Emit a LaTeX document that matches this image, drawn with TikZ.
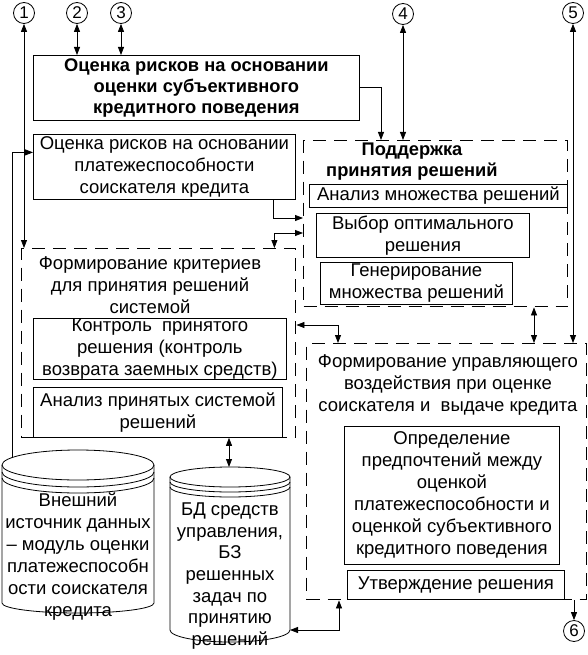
\documentclass[tikz,border=0pt]{standalone}
\usepackage{fontspec}
\setmainfont{Liberation Sans}
\usetikzlibrary{arrows.meta}
\begin{document}
\begin{tikzpicture}[x=1pt,y=-1pt,
  box/.style={draw, line width=0.8pt, inner sep=0pt, anchor=north west, align=center, font=\fontsize{18.5}{22}\selectfont},
  dbox/.style={draw, line width=1.4pt, dash pattern=on 13pt off 8pt, inner sep=0pt, anchor=north west},
  txt/.style={align=center, font=\fontsize{18.5}{22}\selectfont, inner sep=0pt},
  btxt/.style={align=center, font=\fontsize{18.3}{21}\selectfont\bfseries, inner sep=0pt},
  num/.style={draw, circle, minimum size=21pt, inner sep=0pt, line width=0.8pt, font=\fontsize{17}{17}\selectfont},
  arr/.style={line width=0.8pt, -{Triangle[length=8pt,width=6pt]}},
  darr/.style={line width=0.8pt, {Triangle[length=8pt,width=6pt]}-{Triangle[length=8pt,width=6pt]}},
  cyl/.style={line width=0.8pt},
]
\useasboundingbox (0,0) rectangle (588,655);

% numbered circles
\node[num] (c1) at (24,13) {1};
\node[num] (c2) at (77,13) {2};
\node[num] (c3) at (121,13) {3};
\node[num] (c4) at (403,14) {4};
\node[num] (c5) at (573,13) {5};
\node[num] (c6) at (574,631) {6};

% dashed group boxes
\node[dbox, minimum width=264pt, minimum height=166pt] (podd) at (303,140) {};
\node[dbox, minimum width=274pt, minimum height=189pt] (krit) at (21,248) {};
\node[dbox, minimum width=280pt, minimum height=256pt] (upr) at (306,343) {};

% titles of dashed boxes
\node[btxt] (poddt) at (412,162) {Поддержка\\принятия решений};
\node[txt] (kritt) at (150,285) {Формирование критериев\\для принятия решений\\системой};
\node[txt] (uprt) at (448,385) {Формирование управляющего\\воздействия при оценке\\соискателя и \ выдаче кредита};

% solid boxes
\node[box, minimum width=326pt, minimum height=65pt, font=\fontsize{18.3}{21}\selectfont\bfseries] (top) at (33,55) {Оценка рисков на основании\\оценки субъективного\\кредитного поведения};
\node[box, minimum width=262pt, minimum height=65pt] (plat) at (33,134) {Оценка рисков на основании\\платежеспособности\\соискателя кредита};
\node[box, minimum width=258pt, minimum height=23pt] (anm) at (309,184) {Анализ множества решений};
\node[box, minimum width=213pt, minimum height=44pt] (vyb) at (316,213) {Выбор оптимального\\решения};
\node[box, minimum width=192pt, minimum height=42pt] (gen) at (320,262) {Генерирование\\множества решений};
\node[box, minimum width=253pt, minimum height=61pt] (kon) at (33,318) {Контроль \ принятого\\решения (контроль\\возврата заемных средств)};
\node[box, minimum width=249pt, minimum height=50pt] (anp) at (33,387) {Анализ принятых системой\\решений};
\node[box, minimum width=215pt, minimum height=138pt] (opr) at (344,426) {Определение\\предпочтений между\\оценкой\\платежеспособности и\\оценкой субъективного\\кредитного поведения};
\node[box, minimum width=217pt, minimum height=29pt] (utv) at (347,570) {Утверждение решения};

% cylinders
\draw[cyl] (78,465) ellipse [x radius=76pt, y radius=15pt];
\draw[cyl] (2,472) arc[start angle=180,end angle=360,x radius=76pt,y radius=15pt];
\draw[cyl] (2,478) arc[start angle=180,end angle=360,x radius=76pt,y radius=15pt];
\draw[cyl] (2,465) -- (2,603) arc[start angle=180,end angle=360,x radius=76pt,y radius=10pt] -- (154,465);
\node[txt] (db1) at (78,557) {Внешний\\источник данных\\– модуль оценки\\платежеспособн\\ости соискателя\\кредита};
\coordinate (cyl1top) at (12,457);

\draw[cyl] (230,477) ellipse [x radius=60pt, y radius=10pt];
\draw[cyl] (170,482) arc[start angle=180,end angle=360,x radius=60pt,y radius=10pt];
\draw[cyl] (170,487) arc[start angle=180,end angle=360,x radius=60pt,y radius=10pt];
\draw[cyl] (170,477) -- (170,630) arc[start angle=180,end angle=360,x radius=60pt,y radius=12pt] -- (290,477);
\node[txt, font=\fontsize{18.5}{21.7}\selectfont] (db2) at (230,576) {БД средств\\управления,\\БЗ\\решенных\\задач по\\принятию\\решений};
\coordinate (cyl2top) at (229,467);
\coordinate (cyl2east) at (290,630);

% connectors
\draw[darr] (c1.south) -- (c1.south |- krit.north);
\draw[darr] (c2.south) -- (c2.south |- top.north);
\draw[darr] (c3.south) -- (c3.south |- top.north);
\draw[arr] (top.east) -| ([xshift=78pt]podd.north west);
\draw[darr] (c4.south) -- (c4.south |- podd.north);
\draw[arr] (cyl1top) |- ([yshift=14.5pt]plat.west);
\draw[arr] ([xshift=-22pt]plat.south east) |- (podd.west |- 0,218);
\draw[darr] (podd.west |- 0,233) -| ([xshift=-22pt]krit.north east);
\draw[darr] (podd.south -| 534,0) -- (upr.north -| 534,0);
\draw[darr] (c5.south) -- (c5.south |- upr.north);
\draw[darr] (krit.east |- 0,325) -| (upr.north -| 338,0);
\draw[darr] (anp.south -| 229,0) -- (cyl2top);
\draw[darr] (upr.south -| 339,0) |- (cyl2east);
\draw[arr] (upr.south -| 574,0) -- (c6.north);
\end{tikzpicture}
\end{document}
